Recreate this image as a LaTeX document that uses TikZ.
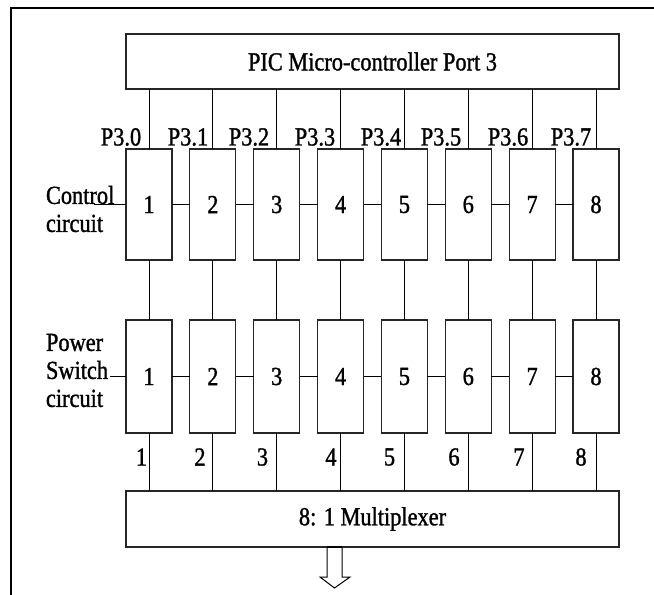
\documentclass[tikz,border=0pt]{standalone}
\usepackage{fontspec}
\setmainfont[FakeStretch=0.86,FakeBold=1.2]{Liberation Serif}
\newcommand\diagtxt{\fontsize{26}{28}\selectfont}
\begin{document}
\begin{tikzpicture}[x=1pt,y=-1pt,
  box/.style={draw=black!85, line width=1.2pt, inner sep=0pt, outer sep=0pt, minimum width=46pt, font=\diagtxt},
  wide/.style={draw=black!85, line width=1.2pt, inner sep=0pt, outer sep=0pt, minimum width=493pt, font=\diagtxt},
  wire/.style={line width=0.9pt},
  lbl/.style={inner sep=0pt, outer sep=0pt, font=\diagtxt}]
\useasboundingbox (0,0) rectangle (654,595);
% outer frame
\coordinate (fbl) at (11,595);
\coordinate (ftl) at (11,7.5);
\coordinate (ftr) at (654,7.5);
\draw[line width=2pt] (fbl) -- (ftl) -- (ftr);
% top and bottom wide boxes
\node[wide, minimum height=55pt] (port) at (372.5,61.5) {PIC Micro-controller Port 3};
\node[wide, minimum height=56pt] (mux) at (372.5,519) {8: 1 Multiplexer};
% column boxes
\foreach \i in {1,...,8}{
  \pgfmathsetmacro\cx{149+63.857*(\i-1)}
  \node[box, minimum height=111pt] (c\i) at (\cx,204.5) {\i};
  \node[box, minimum height=113pt] (p\i) at (\cx,376.5) {\i};
  \draw[wire] (port.south -| c\i) -- (c\i.north);
  \draw[wire] (c\i.south) -- (p\i.north);
  \draw[wire] (p\i.south) -- (mux.north -| p\i);
}
\foreach \i [evaluate=\i as \j using int(\i+1)] in {1,...,7}{
  \draw[wire] (c\i.east) -- (c\j.west);
  \draw[wire] (p\i.east) -- (p\j.west);
}
% port labels
\foreach \x [count=\k from 0] in {121,188,249,315,381,441,508,571}{
  \node[lbl] (pl\k) at (\x,137) {P3.\k};
}
% bottom labels
\foreach \x [count=\k] in {141.5,200,262.5,331,389.5,454,519,581}{
  \node[lbl] (bl\k) at (\x,457) {\k};
}
% left labels
\node[lbl, anchor=west, align=left] (ctl) at (46,209) {Control\\circuit};
\node[lbl, anchor=west, align=left] (pwr) at (46,370.5) {Power\\Switch\\circuit};
\coordinate (cin) at (94,204.5);
\coordinate (pin) at (110,376.5);
\draw[wire] (cin) -- (c1.west);
\draw[wire] (pin) -- (p1.west);
% output arrow
\coordinate (arr) at (mux.south -| 334.5,0);
\draw[line width=1pt, fill=white] ([xshift=-7.5pt]arr) -- ++(0,30) -- ++(-7,0) -- ++(14.5,11) -- ++(15.5,-11) -- ++(-8,0) -- ([xshift=7.5pt]arr);
\draw[line width=2.5pt] ([xshift=-7.5pt]arr) -- ([xshift=7.5pt]arr);
\end{tikzpicture}
\end{document}
